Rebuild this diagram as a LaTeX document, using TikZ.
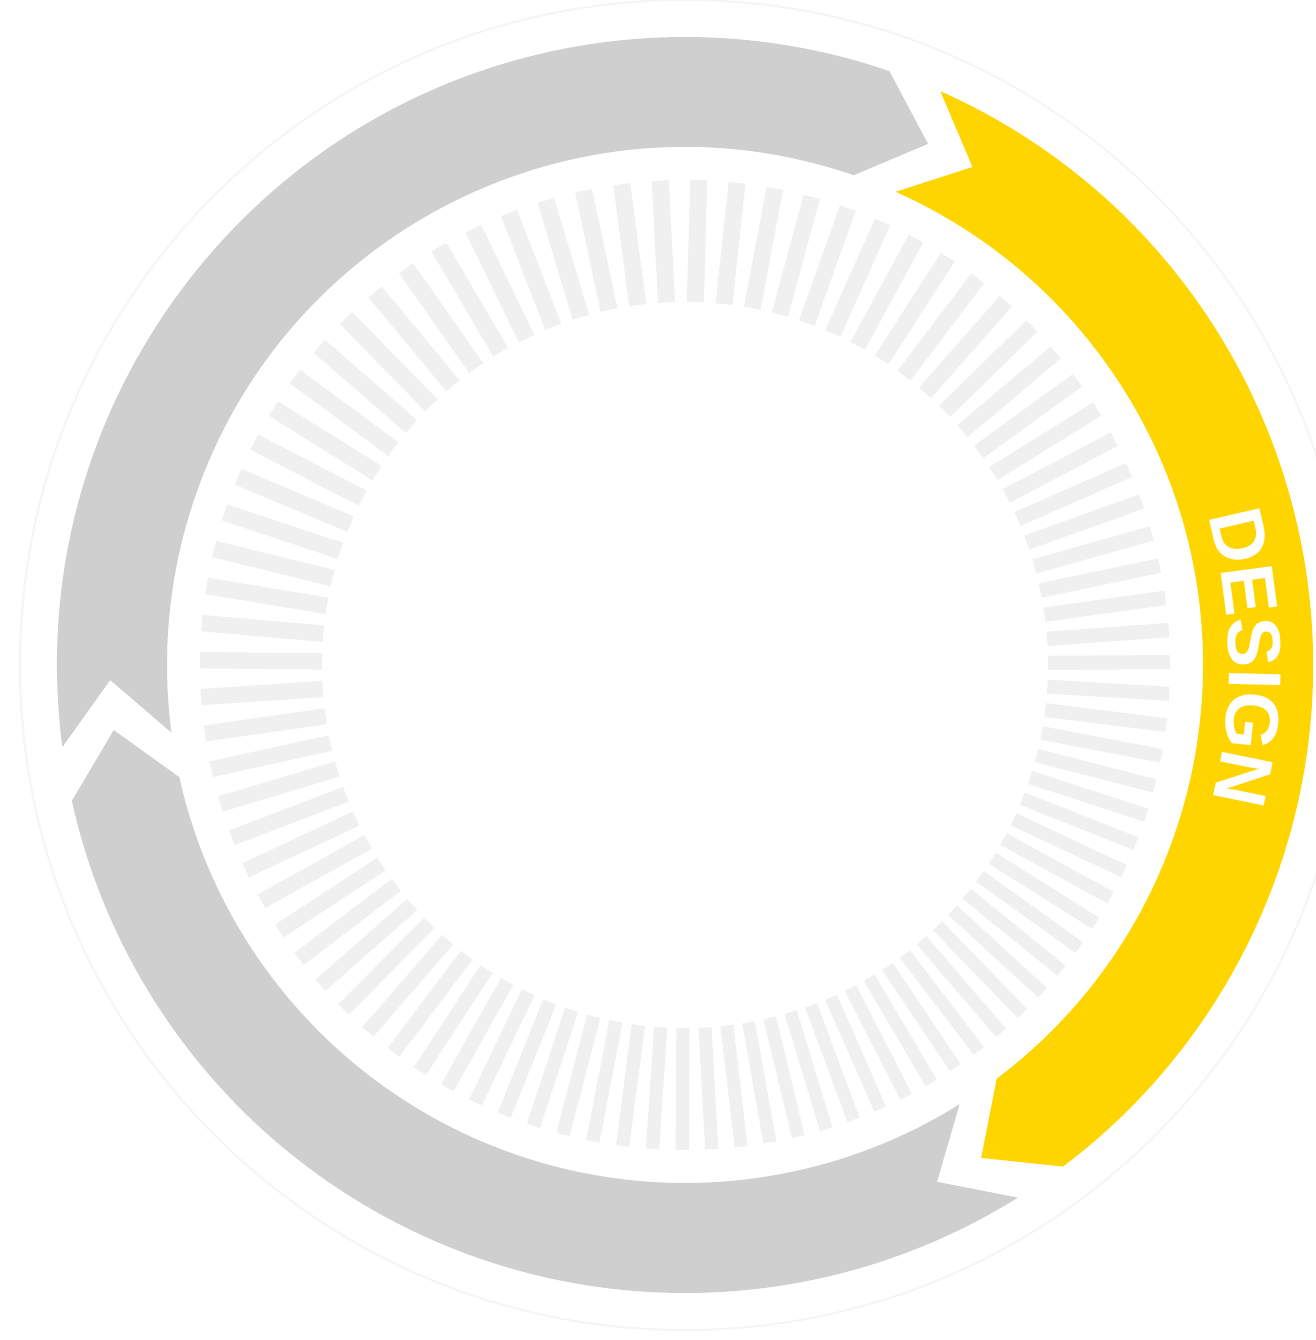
\documentclass[tikz,border=0pt]{standalone}
\usepackage{fontspec}
\usetikzlibrary{decorations.text}
\newfontfamily\designfont{Liberation Sans}
\definecolor{bandgray}{RGB}{207,207,207}
\definecolor{bandyellow}{RGB}{255,213,0}
\definecolor{tickgray}{RGB}{240,240,240}
\begin{document}
\begin{tikzpicture}[x=1pt, y=1pt,
		tickmark/.style={tickgray},
		greyband/.style={fill=bandgray},
		yellowband/.style={fill=bandyellow}]
	\useasboundingbox (-685,-675) rectangle (630,665);
	
	% Faint rim of the disc
	\draw[black!4, line width=2] (0,0) circle[radius=665];
	
	% Tick ring
	\foreach \i in {0,...,89}{
		\pgfmathsetmacro\ang{\i*4+0.5+8.8*sin(\i*4-120)}
		\pgfmathsetmacro\wid{15*(1+0.15*cos(\i*4-120))}
		\draw[tickmark, line width=\wid pt] (\ang:363) -- (\ang:485);
	}
	
	% Cycle arrows (outer 628, inner 518, tips at 575)
	\fill[greyband] (187.5:628) arc[start angle=187.5, end angle=71, radius=628] -- (65:575) -- (71:518) arc[start angle=71, end angle=187.5, radius=518] -- (181.5:575) -- cycle;
	\fill[yellowband] (66:628) arc[start angle=66, end angle=-53, radius=628] -- (-59:575) -- (-53:518) arc[start angle=-53, end angle=66, radius=518] -- (60:575) -- cycle;
	\fill[greyband] (-58:628) arc[start angle=-58, end angle=-167.5, radius=628] -- (-173.5:575) -- (-167.5:518) arc[start angle=-167.5, end angle=-58, radius=518] -- (-64:575) -- cycle;
	
	% Label on the yellow arrow
	\path[decorate, decoration={text along path, text color=white, text align=center,
		text={|\designfont\bfseries\fontsize{75}{75}\selectfont|DESIGN}}]
		(30.75:544) arc[start angle=30.75, end angle=-29.25, radius=544];
\end{tikzpicture}
\end{document}
